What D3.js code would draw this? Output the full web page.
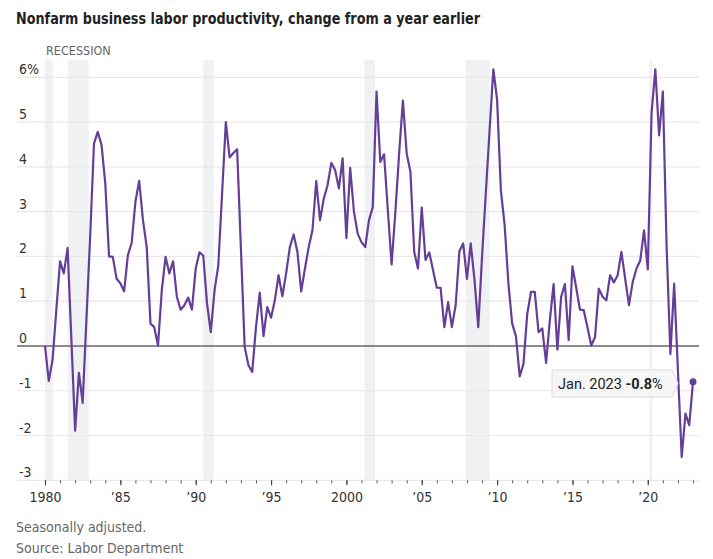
<!DOCTYPE html>
<html>
<head>
<meta charset="utf-8">
<script src="https://cdn.jsdelivr.net/npm/d3@7"></script>
<style>
  html, body { margin: 0; padding: 0; background: #fff; }
  svg { display: block; }
  .cond { font-family: "Liberation Sans Narrow", "DejaVu Sans Condensed", "Roboto", sans-serif; }
</style>
</head>
<body>
<svg id="chart" width="713" height="559"></svg>
<script>
// ---- Data (quarterly, starting 1980 Q1) ----
const startYear = 1980;
const productivity = [
  0.0, -0.78, -0.32, 0.8, 1.89, 1.62, 2.19, 0.15, -1.89, -0.6, -1.27, 0.6,
  2.47, 4.52, 4.78, 4.49, 3.63, 2.0, 1.99, 1.5, 1.4, 1.22, 2.03, 2.3,
  3.22, 3.69, 2.81, 2.21, 0.5, 0.42, 0.01, 1.24, 1.99, 1.62, 1.89, 1.1,
  0.81, 0.91, 1.08, 0.81, 1.73, 2.09, 2.02, 0.95, 0.31, 1.24, 1.8, 3.4,
  5.0, 4.21, 4.31, 4.39, 2.18, -0.02, -0.43, -0.58, 0.42, 1.19, 0.22, 0.87,
  0.63, 1.02, 1.58, 1.11, 1.62, 2.21, 2.49, 2.1, 1.22, 1.73, 2.21, 2.59,
  3.68, 2.81, 3.29, 3.59, 4.09, 3.93, 3.52, 4.19, 2.41, 3.98, 3.0, 2.51,
  2.32, 2.21, 2.81, 3.1, 5.68, 4.11, 4.28, 3.03, 1.82, 3.0, 4.3, 5.48,
  4.3, 3.89, 2.1, 1.73, 3.09, 1.92, 2.09, 1.69, 1.3, 1.3, 0.42, 0.98,
  0.42, 0.91, 2.12, 2.29, 1.5, 2.29, 1.48, 0.42, 1.99, 3.41, 4.8, 6.18,
  5.5, 3.48, 2.7, 1.4, 0.5, 0.22, -0.68, -0.4, 0.71, 1.21, 1.21, 0.31,
  0.39, -0.38, 0.57, 1.38, -0.08, 1.1, 1.38, 0.13, 1.78, 1.3, 0.81, 0.8,
  0.41, 0.01, 0.2, 1.28, 1.1, 1.02, 1.58, 1.42, 1.58, 2.1, 1.5, 0.91,
  1.43, 1.73, 1.91, 2.58, 1.71, 5.2, 6.18, 4.7, 5.68, 2.2, -0.18, 1.39,
  -0.55, -2.48, -1.51, -1.77, -0.8
];
// Recessions as [start, end] in decimal years
const recessions = [
  [1980.0, 1980.5], [1981.5, 1982.9], [1990.5, 1991.2],
  [2001.2, 2001.9], [2007.9, 2009.5], [2020.1, 2020.3]
];
const yTicks = [-3, -2, -1, 0, 1, 2, 3, 4, 5, 6];
const xMajorTicks = [1980, 1985, 1990, 1995, 2000, 2005, 2010, 2015, 2020];
const xMinorTicks = d3.range(1980, 2024);
const latestLabel = "Jan. 2023";
const latestValue = "-0.8";

const title = "Nonfarm business labor productivity, change from a year earlier";
const notes = ["Seasonally adjusted.", "Source: Labor Department"];

const series = productivity.map((v, i) => ({ t: startYear + i / 4, v }));

// ---- Layout ----
const svg = d3.select("#chart");
const x = d3.scaleLinear().domain([1980, 2023]).range([45, 693]);
const y = d3.scaleLinear().domain([-3, 6]).range([480.3, 77.3]);
const gridLeft = 17, gridRight = 699;
const purple = "#643e97";

// Title
svg.append("text").attr("class", "cond")
  .attr("x", 16).attr("y", 24)
  .attr("font-size", 16.5).attr("font-weight", "bold").attr("fill", "#222")
  .attr("textLength", 464).attr("lengthAdjust", "spacingAndGlyphs")
  .text(title);

// Recession bands
svg.append("g").selectAll("rect").data(recessions).join("rect")
  .attr("x", d => x(d[0]))
  .attr("width", d => Math.max(2.5, x(d[1]) - x(d[0])))
  .attr("y", 60).attr("height", y(-3) - 60)
  .attr("fill", "#f0f1f3");

svg.append("text").attr("class", "cond")
  .attr("x", 46).attr("y", 55)
  .attr("font-size", 12.5).attr("fill", "#666")
  .text("RECESSION");

// Gridlines
svg.append("g").selectAll("line").data(yTicks.filter(d => d !== 0)).join("line")
  .attr("x1", gridLeft).attr("x2", gridRight)
  .attr("y1", d => y(d)).attr("y2", d => y(d))
  .attr("stroke", "#e8e8e8").attr("stroke-width", 1.2);

// Y labels
svg.append("g").selectAll("text").data(yTicks).join("text")
  .attr("class", "cond")
  .attr("x", 19).attr("y", d => y(d) - 3)
  .attr("font-size", 14).attr("fill", "#333")
  .text(d => d === 6 ? "6%" : String(d));

// X axis ticks
const fmt = d => (d === 1980 || d === 2000) ? String(d) : "\u2019" + String(d).slice(2);
const gMinor = svg.append("g").attr("transform", `translate(0,${y(-3)})`)
  .call(d3.axisBottom(x).tickValues(xMinorTicks).tickSize(3).tickFormat(""));
gMinor.select(".domain").remove();
gMinor.selectAll(".tick line").attr("stroke", "#555");

const gMajor = svg.append("g").attr("transform", `translate(0,${y(-3)})`)
  .call(d3.axisBottom(x).tickValues(xMajorTicks).tickSize(5).tickPadding(7).tickFormat(fmt));
gMajor.select(".domain").remove();
gMajor.selectAll(".tick line").attr("stroke", "#444").attr("stroke-width", 1.2);
gMajor.selectAll(".tick text")
  .attr("class", "cond")
  .attr("font-size", 14).attr("fill", "#333");

// Zero line
svg.append("line")
  .attr("x1", gridLeft).attr("x2", gridRight)
  .attr("y1", y(0)).attr("y2", y(0))
  .attr("stroke", "#666").attr("stroke-width", 1.5);

// Line
const line = d3.line().x(d => x(d.t)).y(d => y(d.v));
svg.append("path").datum(series)
  .attr("d", line)
  .attr("fill", "none").attr("stroke", purple)
  .attr("stroke-width", 2.2).attr("stroke-linejoin", "round");

const last = series[series.length - 1];
svg.append("circle").attr("cx", x(last.t)).attr("cy", y(last.v)).attr("r", 3.5).attr("fill", purple);

// Annotation box
const bx = 552, by = 370, bw = 120, bh = 27;
const ann = svg.append("g");
ann.append("path")
  .attr("d", `M${bx},${by} H${bx + bw} L${bx + bw + 6},${by + bh / 2} L${bx + bw},${by + bh} H${bx} Z`)
  .attr("fill", "#f6f6f6").attr("stroke", "#dcdcdc");
const t = ann.append("text")
  .attr("x", bx + 6).attr("y", by + 19)
  .attr("font-family", "Roboto, 'Open Sans', sans-serif")
  .attr("font-size", 14.5).attr("fill", "#222");
t.append("tspan").text(latestLabel + " ");
t.append("tspan").attr("font-weight", "bold").text(latestValue);
t.append("tspan").text("%");

// Notes
svg.append("g").selectAll("text").data(notes).join("text")
  .attr("class", "cond")
  .attr("x", 16).attr("y", (d, i) => 532 + i * 21)
  .attr("font-size", 14).attr("fill", "#666")
  .text(d => d);
</script>
</body>
</html>
